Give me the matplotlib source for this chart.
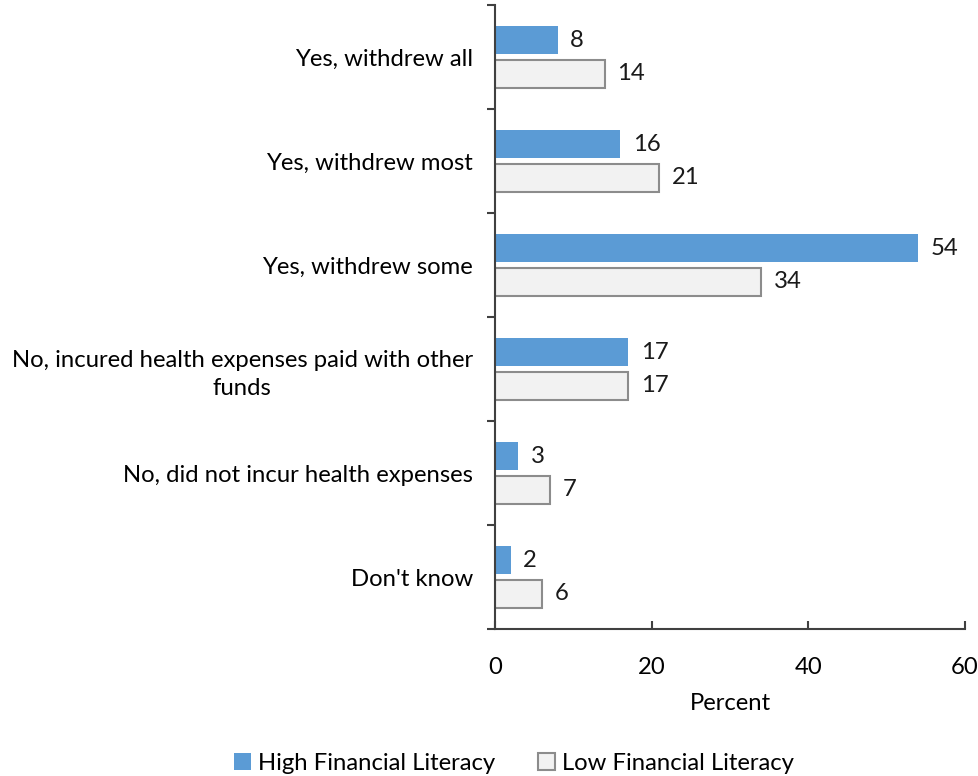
import numpy as np
import matplotlib.pyplot as plt

plt.rcParams['font.family'] = ['Lato', 'DejaVu Sans']

categories = ["Yes, withdrew all", "Yes, withdrew most", "Yes, withdrew some",
              "No, incured health expenses paid with other\nfunds",
              "No, did not incur health expenses", "Don't know"]
high = [8, 16, 54, 17, 3, 2]
low = [14, 21, 34, 17, 7, 6]

fs = 17.2

fig = plt.figure(figsize=(9.79, 7.76), dpi=100)
ax = fig.add_axes([0.5056, 0.1894, 0.4801, 0.8042])

y = np.arange(len(categories))
h = 0.27
off = 0.16
b1 = ax.barh(y - off, high, height=h, color="#5B9BD5", label="High Financial Literacy")
b2 = ax.barh(y + off, low, height=h, color="#F2F2F2", edgecolor="#8C8C8C",
             linewidth=1.5, label="Low Financial Literacy")

for rect, v in zip(b1, high):
    ax.text(v + 1.6, rect.get_y() + rect.get_height() / 2, str(v),
            va="center", ha="left", fontsize=fs, color="#1a1a1a")
for rect, v in zip(b2, low):
    ax.text(v + 1.6, rect.get_y() + rect.get_height() / 2, str(v),
            va="center", ha="left", fontsize=fs, color="#1a1a1a")

ax.set_ylim(len(categories) - 0.5, -0.5)
ax.set_xlim(0, 60)
ax.set_xticks([0, 20, 40, 60])
ax.set_yticks(y)
ax.set_yticklabels(categories, fontsize=fs, multialignment="center", linespacing=1.4)
ax.set_yticks(np.arange(len(categories) + 1) - 0.5, minor=True)
ax.tick_params(axis="y", which="major", length=0, pad=16)
ax.tick_params(axis="y", which="minor", length=6, width=1.5, direction="out", color="#404040")
ax.tick_params(axis="x", length=6, width=1.5, direction="in", pad=20, labelsize=fs,
               color="#404040")
ax.set_xlabel("Percent", fontsize=fs, labelpad=11)

for s in ["top", "right"]:
    ax.spines[s].set_visible(False)
for s in ["left", "bottom"]:
    ax.spines[s].set_linewidth(1.5)
    ax.spines[s].set_color("#404040")

fig.legend(loc="lower center", bbox_to_anchor=(0.525, -0.025), ncol=2, frameon=False,
           fontsize=fs, handlelength=0.7, handleheight=0.7, handletextpad=0.3,
           columnspacing=1.8)

fig.savefig("out.png", dpi=100)
